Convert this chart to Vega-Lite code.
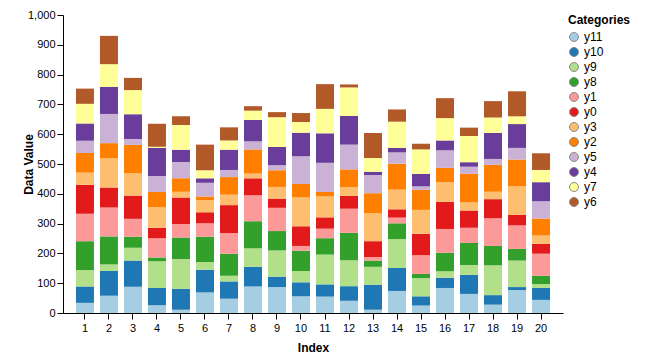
{
  "$schema": "https://vega.github.io/schema/vega-lite/v6.json",
  "width": 500,
  "height": 298,
  "autosize": "none",
  "padding": {"left": 63, "top": 15, "right": 97, "bottom": 48},
  "config": {
    "font": "Liberation Sans",
    "view": {"stroke": null},
    "axis": {
      "domainColor": "#000",
      "tickColor": "#000",
      "labelColor": "#000",
      "titleColor": "#000",
      "labelFontSize": 11,
      "titleFontSize": 12,
      "titleFontWeight": "bold",
      "tickSize": 6,
      "grid": false
    },
    "legend": {
      "titleFontSize": 12,
      "titleFontWeight": "bold",
      "titleColor": "#000",
      "labelFontSize": 12,
      "labelColor": "#000"
    }
  },
  "datasets": {
    "stackorder": [
      {"category":"y11","rank":1},{"category":"y10","rank":2},{"category":"y9","rank":3},{"category":"y8","rank":4},
      {"category":"y1","rank":5},{"category":"y0","rank":6},{"category":"y3","rank":7},{"category":"y2","rank":8},
      {"category":"y5","rank":9},{"category":"y4","rank":10},{"category":"y7","rank":11},{"category":"y6","rank":12}
    ]
  },
  "data": {
    "values": [
      {"index":1,"category":"y11","value":34},{"index":1,"category":"y10","value":55},{"index":1,"category":"y9","value":55},{"index":1,"category":"y8","value":97},{"index":1,"category":"y1","value":92},{"index":1,"category":"y0","value":97},{"index":1,"category":"y3","value":41},{"index":1,"category":"y2","value":66},{"index":1,"category":"y5","value":41},{"index":1,"category":"y4","value":58},{"index":1,"category":"y7","value":66},{"index":1,"category":"y6","value":51},
      {"index":2,"category":"y11","value":58},{"index":2,"category":"y10","value":83},{"index":2,"category":"y9","value":22},{"index":2,"category":"y8","value":94},{"index":2,"category":"y1","value":97},{"index":2,"category":"y0","value":67},{"index":2,"category":"y3","value":98},{"index":2,"category":"y2","value":51},{"index":2,"category":"y5","value":98},{"index":2,"category":"y4","value":91},{"index":2,"category":"y7","value":76},{"index":2,"category":"y6","value":95},
      {"index":3,"category":"y11","value":88},{"index":3,"category":"y10","value":88},{"index":3,"category":"y9","value":43},{"index":3,"category":"y8","value":37},{"index":3,"category":"y1","value":60},{"index":3,"category":"y0","value":78},{"index":3,"category":"y3","value":75},{"index":3,"category":"y2","value":95},{"index":3,"category":"y5","value":20},{"index":3,"category":"y4","value":83},{"index":3,"category":"y7","value":81},{"index":3,"category":"y6","value":41},
      {"index":4,"category":"y11","value":26},{"index":4,"category":"y10","value":58},{"index":4,"category":"y9","value":90},{"index":4,"category":"y8","value":12},{"index":4,"category":"y1","value":65},{"index":4,"category":"y0","value":35},{"index":4,"category":"y3","value":69},{"index":4,"category":"y2","value":51},{"index":4,"category":"y5","value":54},{"index":4,"category":"y4","value":94},{"index":4,"category":"y7","value":4},{"index":4,"category":"y6","value":77},
      {"index":5,"category":"y11","value":11},{"index":5,"category":"y10","value":70},{"index":5,"category":"y9","value":100},{"index":5,"category":"y8","value":72},{"index":5,"category":"y1","value":46},{"index":5,"category":"y0","value":89},{"index":5,"category":"y3","value":19},{"index":5,"category":"y2","value":45},{"index":5,"category":"y5","value":55},{"index":5,"category":"y4","value":41},{"index":5,"category":"y7","value":83},{"index":5,"category":"y6","value":29},
      {"index":6,"category":"y11","value":69},{"index":6,"category":"y10","value":76},{"index":6,"category":"y9","value":26},{"index":6,"category":"y8","value":85},{"index":6,"category":"y1","value":45},{"index":6,"category":"y0","value":37},{"index":6,"category":"y3","value":41},{"index":6,"category":"y2","value":12},{"index":6,"category":"y5","value":46},{"index":6,"category":"y4","value":15},{"index":6,"category":"y7","value":27},{"index":6,"category":"y6","value":86},
      {"index":7,"category":"y11","value":48},{"index":7,"category":"y10","value":58},{"index":7,"category":"y9","value":19},{"index":7,"category":"y8","value":74},{"index":7,"category":"y1","value":69},{"index":7,"category":"y0","value":94},{"index":7,"category":"y3","value":35},{"index":7,"category":"y2","value":59},{"index":7,"category":"y5","value":24},{"index":7,"category":"y4","value":68},{"index":7,"category":"y7","value":31},{"index":7,"category":"y6","value":44},
      {"index":8,"category":"y11","value":89},{"index":8,"category":"y10","value":66},{"index":8,"category":"y9","value":62},{"index":8,"category":"y8","value":91},{"index":8,"category":"y1","value":87},{"index":8,"category":"y0","value":57},{"index":8,"category":"y3","value":16},{"index":8,"category":"y2","value":81},{"index":8,"category":"y5","value":27},{"index":8,"category":"y4","value":72},{"index":8,"category":"y7","value":31},{"index":8,"category":"y6","value":15},
      {"index":9,"category":"y11","value":87},{"index":9,"category":"y10","value":35},{"index":9,"category":"y9","value":88},{"index":9,"category":"y8","value":65},{"index":9,"category":"y1","value":78},{"index":9,"category":"y0","value":31},{"index":9,"category":"y3","value":39},{"index":9,"category":"y2","value":56},{"index":9,"category":"y5","value":17},{"index":9,"category":"y4","value":61},{"index":9,"category":"y7","value":100},{"index":9,"category":"y6","value":17},
      {"index":10,"category":"y11","value":56},{"index":10,"category":"y10","value":47},{"index":10,"category":"y9","value":38},{"index":10,"category":"y8","value":68},{"index":10,"category":"y1","value":16},{"index":10,"category":"y0","value":66},{"index":10,"category":"y3","value":97},{"index":10,"category":"y2","value":45},{"index":10,"category":"y5","value":93},{"index":10,"category":"y4","value":79},{"index":10,"category":"y7","value":36},{"index":10,"category":"y6","value":30},
      {"index":11,"category":"y11","value":55},{"index":11,"category":"y10","value":41},{"index":11,"category":"y9","value":100},{"index":11,"category":"y8","value":55},{"index":11,"category":"y1","value":32},{"index":11,"category":"y0","value":38},{"index":11,"category":"y3","value":70},{"index":11,"category":"y2","value":15},{"index":11,"category":"y5","value":98},{"index":11,"category":"y4","value":99},{"index":11,"category":"y7","value":82},{"index":11,"category":"y6","value":83},
      {"index":12,"category":"y11","value":41},{"index":12,"category":"y10","value":49},{"index":12,"category":"y9","value":87},{"index":12,"category":"y8","value":92},{"index":12,"category":"y1","value":81},{"index":12,"category":"y0","value":43},{"index":12,"category":"y3","value":29},{"index":12,"category":"y2","value":60},{"index":12,"category":"y5","value":83},{"index":12,"category":"y4","value":96},{"index":12,"category":"y7","value":96},{"index":12,"category":"y6","value":10},
      {"index":13,"category":"y11","value":11},{"index":13,"category":"y10","value":84},{"index":13,"category":"y9","value":60},{"index":13,"category":"y8","value":21},{"index":13,"category":"y1","value":12},{"index":13,"category":"y0","value":53},{"index":13,"category":"y3","value":94},{"index":13,"category":"y2","value":67},{"index":13,"category":"y5","value":61},{"index":13,"category":"y4","value":11},{"index":13,"category":"y7","value":46},{"index":13,"category":"y6","value":84},
      {"index":14,"category":"y11","value":74},{"index":14,"category":"y10","value":77},{"index":14,"category":"y9","value":97},{"index":14,"category":"y8","value":53},{"index":14,"category":"y1","value":19},{"index":14,"category":"y0","value":28},{"index":14,"category":"y3","value":66},{"index":14,"category":"y2","value":87},{"index":14,"category":"y5","value":38},{"index":14,"category":"y4","value":15},{"index":14,"category":"y7","value":88},{"index":14,"category":"y6","value":41},
      {"index":15,"category":"y11","value":25},{"index":15,"category":"y10","value":31},{"index":15,"category":"y9","value":61},{"index":15,"category":"y8","value":14},{"index":15,"category":"y1","value":63},{"index":15,"category":"y0","value":72},{"index":15,"category":"y3","value":80},{"index":15,"category":"y2","value":67},{"index":15,"category":"y5","value":12},{"index":15,"category":"y4","value":42},{"index":15,"category":"y7","value":82},{"index":15,"category":"y6","value":19},
      {"index":16,"category":"y11","value":84},{"index":16,"category":"y10","value":34},{"index":16,"category":"y9","value":22},{"index":16,"category":"y8","value":62},{"index":16,"category":"y1","value":80},{"index":16,"category":"y0","value":91},{"index":16,"category":"y3","value":66},{"index":16,"category":"y2","value":48},{"index":16,"category":"y5","value":59},{"index":16,"category":"y4","value":33},{"index":16,"category":"y7","value":75},{"index":16,"category":"y6","value":67},
      {"index":17,"category":"y11","value":64},{"index":17,"category":"y10","value":64},{"index":17,"category":"y9","value":33},{"index":17,"category":"y8","value":74},{"index":17,"category":"y1","value":51},{"index":17,"category":"y0","value":58},{"index":17,"category":"y3","value":27},{"index":17,"category":"y2","value":96},{"index":17,"category":"y5","value":24},{"index":17,"category":"y4","value":15},{"index":17,"category":"y7","value":88},{"index":17,"category":"y6","value":28},
      {"index":18,"category":"y11","value":28},{"index":18,"category":"y10","value":32},{"index":18,"category":"y9","value":100},{"index":18,"category":"y8","value":65},{"index":18,"category":"y1","value":93},{"index":18,"category":"y0","value":64},{"index":18,"category":"y3","value":25},{"index":18,"category":"y2","value":90},{"index":18,"category":"y5","value":20},{"index":18,"category":"y4","value":87},{"index":18,"category":"y7","value":52},{"index":18,"category":"y6","value":55},
      {"index":19,"category":"y11","value":77},{"index":19,"category":"y10","value":10},{"index":19,"category":"y9","value":89},{"index":19,"category":"y8","value":39},{"index":19,"category":"y1","value":79},{"index":19,"category":"y0","value":35},{"index":19,"category":"y3","value":96},{"index":19,"category":"y2","value":90},{"index":19,"category":"y5","value":39},{"index":19,"category":"y4","value":80},{"index":19,"category":"y7","value":26},{"index":19,"category":"y6","value":84},
      {"index":20,"category":"y11","value":44},{"index":20,"category":"y10","value":40},{"index":20,"category":"y9","value":13},{"index":20,"category":"y8","value":28},{"index":20,"category":"y1","value":74},{"index":20,"category":"y0","value":33},{"index":20,"category":"y3","value":28},{"index":20,"category":"y2","value":57},{"index":20,"category":"y5","value":58},{"index":20,"category":"y4","value":64},{"index":20,"category":"y7","value":41},{"index":20,"category":"y6","value":56}
    ]
  },
  "transform": [
    {"lookup": "category", "from": {"data": {"name": "stackorder"}, "key": "category", "fields": ["rank"]}}
  ],
  "mark": {"type": "bar"},
  "encoding": {
    "x": {
      "field": "index",
      "type": "ordinal",
      "scale": {"paddingInner": 0.25, "paddingOuter": 0.54},
      "axis": {"title": "Index", "labelAngle": 0, "labelPadding": 3, "titleX": 250, "titleY": 34, "titleBaseline": "middle"}
    },
    "y": {
      "field": "value",
      "type": "quantitative",
      "stack": "zero",
      "scale": {"domain": [0, 1000], "nice": false},
      "axis": {"title": "Data Value", "values": [0,100,200,300,400,500,600,700,800,900,1000], "format": ",d", "labelPadding": 2, "titleX": -35, "titleY": 149, "titleAngle": -90, "titleAlign": "center", "titleBaseline": "middle"}
    },
    "order": {"field": "rank", "type": "quantitative", "sort": "ascending"},
    "color": {
      "field": "category",
      "type": "nominal",
      "scale": {
        "domain": ["y11","y10","y9","y8","y1","y0","y3","y2","y5","y4","y7","y6"],
        "range": ["#a6cee3","#1f78b4","#b2df8a","#33a02c","#fb9a99","#e31a1c","#fdbf6f","#ff7f00","#cab2d6","#6a3d9a","#ffff99","#b15928"]
      },
      "legend": {
        "title": "Categories",
        "offset": 5,
        "padding": 0,
        "symbolType": "circle",
        "symbolSize": 80,
        "symbolStrokeColor": "#888",
        "symbolStrokeWidth": 1,
        "rowPadding": 1,
        "labelOffset": 4,
        "titlePadding": 4
      }
    }
  }
}
